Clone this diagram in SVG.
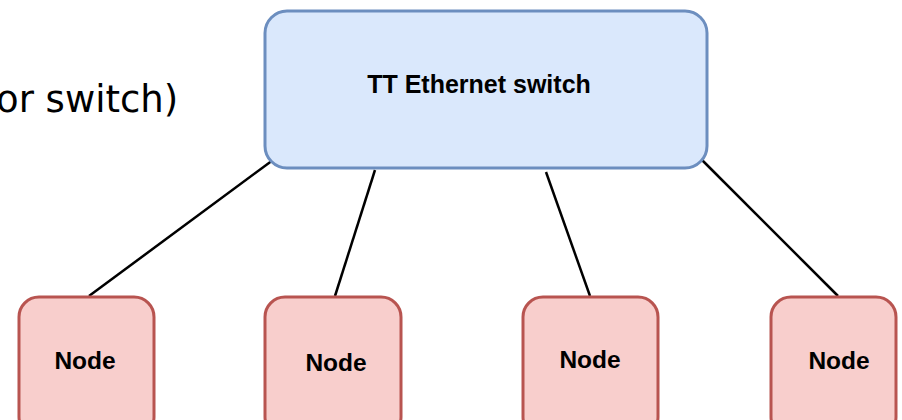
<svg xmlns="http://www.w3.org/2000/svg" width="902" height="420" viewBox="0 0 902 420">
<style>
.sw{fill:#dae8fc;stroke:#6c8ebf;stroke-width:3}
.nd{fill:#f8cecc;stroke:#b85450;stroke-width:3}
.lbl{font-family:"Liberation Sans",Arial,sans-serif;font-weight:bold;font-size:24.5px;fill:#000;text-anchor:middle}
.ln{stroke:#000;stroke-width:2.5;fill:none}
</style>
<rect width="902" height="420" fill="#fff"/>
<text x="-4" y="112" font-family="DejaVu Sans,Verdana,sans-serif" font-size="37" fill="#000">or switch)</text>
<g id="connectors">
<line class="ln" x1="273" y1="160" x2="89" y2="296"/>
<line class="ln" x1="375" y1="170" x2="335" y2="296"/>
<line class="ln" x1="546" y1="172" x2="590" y2="296"/>
<line class="ln" x1="702" y1="160" x2="838" y2="296"/>
</g>
<g id="switch">
<rect class="sw" x="265" y="11" width="442" height="157" rx="22" ry="22"/>
<text class="lbl" x="479" y="93" style="font-size:25px">TT Ethernet switch</text>
</g>
<g id="node1">
<rect class="nd" x="19" y="297" width="135" height="140" rx="20" ry="20"/>
<text class="lbl" x="85" y="369">Node</text>
</g>
<g id="node2">
<rect class="nd" x="265" y="297" width="136" height="140" rx="20" ry="20"/>
<text class="lbl" x="336" y="371">Node</text>
</g>
<g id="node3">
<rect class="nd" x="523" y="297" width="135" height="140" rx="20" ry="20"/>
<text class="lbl" x="590" y="368">Node</text>
</g>
<g id="node4">
<rect class="nd" x="771" y="297" width="125" height="140" rx="20" ry="20"/>
<text class="lbl" x="839" y="369">Node</text>
</g>
</svg>
